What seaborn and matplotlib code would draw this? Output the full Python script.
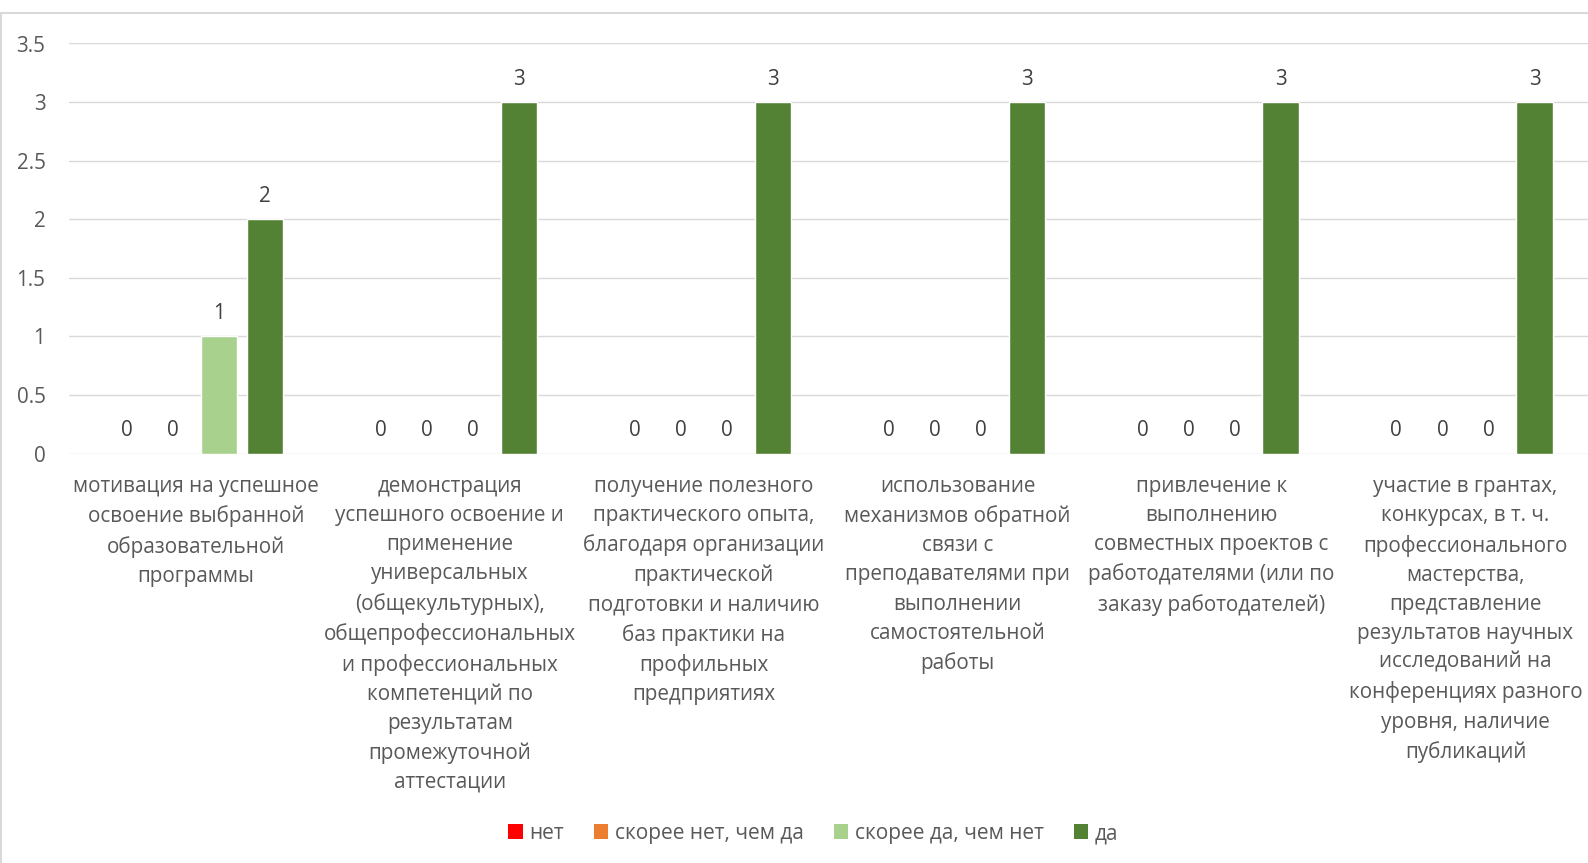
import matplotlib
matplotlib.use("Agg")
import matplotlib.pyplot as plt
from matplotlib.patches import Patch
from matplotlib.lines import Line2D
import seaborn as sns
import pandas as pd

categories = [
    "мотивация на успешное\nосвоение выбранной\nобразовательной\nпрограммы",
    "демонстрация\nуспешного освоение и\nприменение\nуниверсальных\n(общекультурных),\nобщепрофессиональных\nи профессиональных\nкомпетенций по\nрезультатам\nпромежуточной\nаттестации",
    "получение полезного\nпрактического опыта,\nблагодаря организации\nпрактической\nподготовки и наличию\nбаз практики на\nпрофильных\nпредприятиях",
    "использование\nмеханизмов обратной\nсвязи с\nпреподавателями при\nвыполнении\nсамостоятельной\nработы",
    "привлечение к\nвыполнению\nсовместных проектов с\nработодателями (или по\nзаказу работодателей)",
    "участие в грантах,\nконкурсах, в т. ч.\nпрофессионального\nмастерства,\nпредставление\nрезультатов научных\nисследований на\nконференциях разного\nуровня, наличие\nпубликаций",
]
series_names = ["нет", "скорее нет, чем да", "скорее да, чем нет", "да"]
net = [0, 0, 0, 0, 0, 0]
skoree_net = [0, 0, 0, 0, 0, 0]
skoree_da = [1, 0, 0, 0, 0, 0]
da = [2, 3, 3, 3, 3, 3]
series_values = [net, skoree_net, skoree_da, da]
colors = ["#FF0000", "#ED7D31", "#A9D18E", "#548235"]
y_ticks = [0, 0.5, 1, 1.5, 2, 2.5, 3, 3.5]

rows = []
for name, vals in zip(series_names, series_values):
    for cat, v in zip(categories, vals):
        rows.append({"category": cat, "series": name, "value": v})
df = pd.DataFrame(rows)

sns.set_theme(style="white")
FONT = ["Open Sans", "DejaVu Sans"]
plt.rcParams["font.family"] = FONT
TXT = "#595959"
FS = 14.9

W, H = 1588, 863
fig = plt.figure(figsize=(W / 100, H / 100), dpi=100)
left, right = 69, 69 + 6 * 253.9
y0, y35 = 453.7, 43.5
ax = fig.add_axes([left / W, (H - y0) / H, (right - left) / W, (y0 - y35) / H])

sns.barplot(data=df, x="category", y="value", hue="series", order=categories,
            hue_order=series_names, palette=colors, width=0.726, gap=0.21,
            saturation=1, legend=False, ax=ax, errorbar=None)

for cont, vals in zip(ax.containers, series_values):
    labels = [f"{v:g}" for v in vals]
    ax.bar_label(cont, labels=labels, padding=9, fontsize=FS, color="#404040")

ax.set_xlim(-0.5, 5.5)
ax.set_ylim(0, 3.5)
ax.set_yticks(y_ticks)
ax.set_yticklabels([f"{t:g}" for t in y_ticks])
ax.yaxis.grid(True, color="#D9D9D9", linewidth=1.0)
ax.set_axisbelow(True)
for s in ax.spines.values():
    s.set_visible(False)
ax.set_xlabel("")
ax.set_ylabel("")
ax.tick_params(axis="y", length=0, pad=17, labelsize=FS, labelcolor=TXT)
ax.tick_params(axis="x", length=0, pad=16, labelsize=FS, labelcolor=TXT)
for lab in ax.get_xticklabels():
    lab.set_linespacing(1.505)
    lab.set_ha("center")
    lab.set_va("top")

handles = [Patch(facecolor=c, edgecolor="none") for c in colors]
fig.legend(handles, series_names, loc="center", bbox_to_anchor=(813 / W, 1 - 833.5 / H),
           ncol=4, frameon=False, fontsize=15, labelcolor=TXT,
           handlelength=0.7, handleheight=0.7, handletextpad=0.3, columnspacing=1.45)

fig.add_artist(Line2D([0, 1], [1 - 13.2 / H] * 2, transform=fig.transFigure, color="#D9D9D9", lw=1.5))
fig.add_artist(Line2D([1 / W] * 2, [0, 1 - 13.2 / H], transform=fig.transFigure, color="#D9D9D9", lw=1.5))

fig.savefig("out.png", dpi=100)
